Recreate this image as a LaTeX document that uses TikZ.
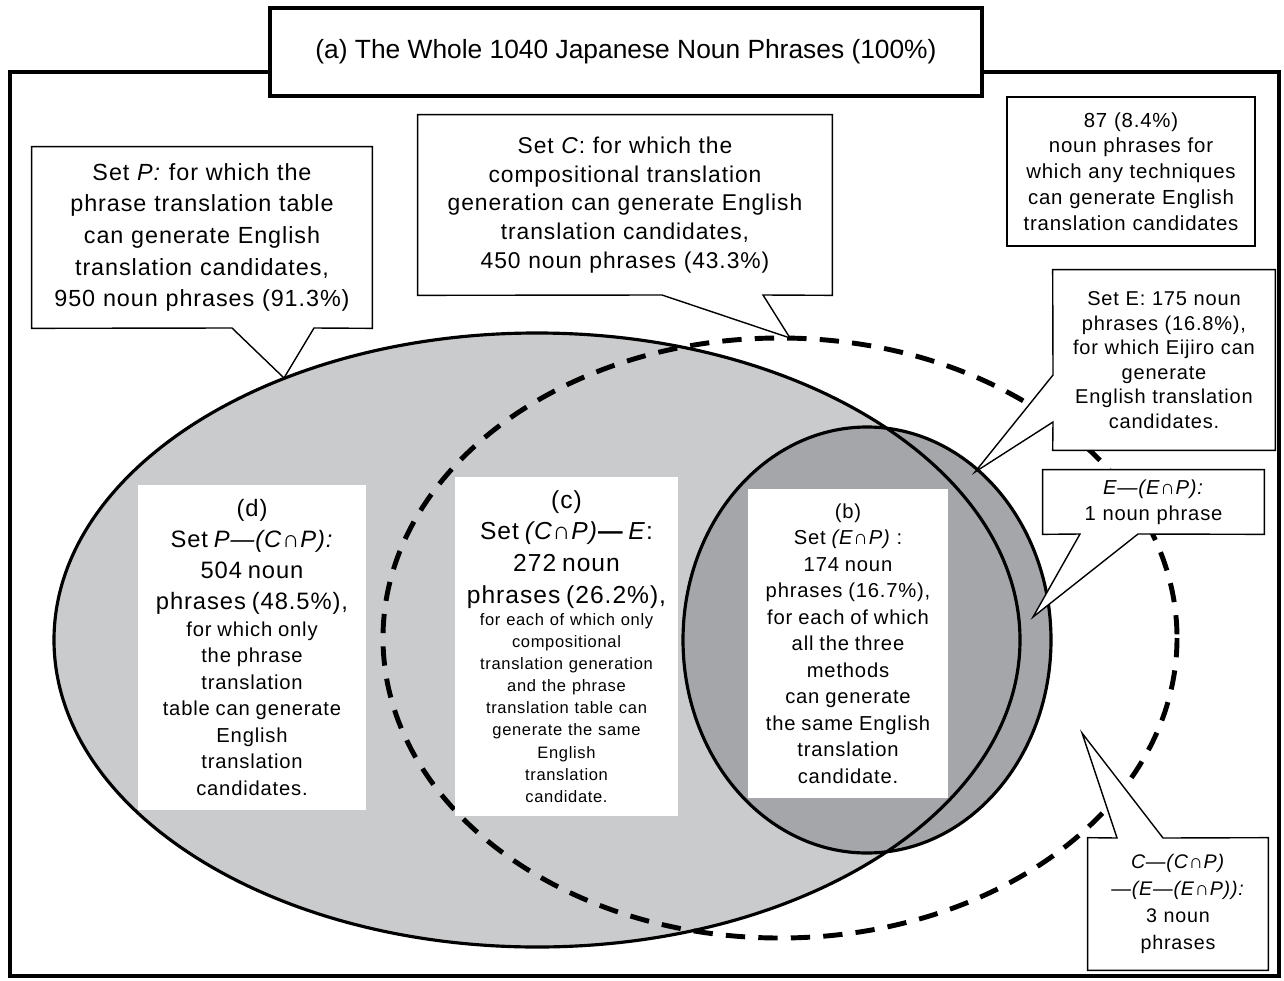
\documentclass[tikz,border=0pt]{standalone}
\usepackage{fontspec}
\setmainfont{Liberation Sans}[LetterSpace=4]
\newfontfamily\titlefont{Liberation Sans}
\definecolor{pgray}{RGB}{202,203,205}
\definecolor{egray}{RGB}{165,166,170}
\tikzset{
  setline/.style={line width=1.8pt},
  dashset/.style={line width=2.8pt, dash pattern=on 11pt off 7.5pt},
  callout/.style={draw=black, line width=0.8pt},
  textbox/.style={fill=white, inner sep=0pt, align=center},
  bigfont/.style={font=\fontsize{13.3}{18}\selectfont},
  midfont/.style={font=\fontsize{11.5}{14.6}\selectfont},
}
\begin{document}
\begin{tikzpicture}[x=0.02cm, y=-0.02cm]
  \useasboundingbox (0,0) rectangle (1284,980);
  \draw[line width=2.3pt] (10,72) rectangle (1279,976);

  \coordinate (P) at (537,640);
  \coordinate (C) at (780,638);
  \coordinate (E) at (867,640);
  \fill[pgray] (P) ellipse [x radius=483, y radius=307];
  \fill[egray] (E) ellipse [x radius=184, y radius=213];
  \draw[setline] (P) ellipse [x radius=483, y radius=307];
  \draw[setline] (E) ellipse [x radius=184, y radius=213];
  \draw[dashset] (C) ellipse [x radius=397, y radius=300];

  \node[draw, line width=2.3pt, fill=white, minimum width=14.24cm, minimum height=1.76cm]
    (title) at (626,52) {\titlefont\fontsize{15}{18}\selectfont (a) The Whole 1040 Japanese Noun Phrases (100\%)};

  \node[textbox, text width=4.56cm, minimum height=6.5cm] (dset) at (252,647.5)
    {\fontsize{13.5}{17.6}\selectfont (d)\\Set \textit{P—(C∩P):}\\504 noun\\phrases (48.5\%),\par
     \fontsize{11.5}{15.1}\selectfont for which only\\the phrase\\translation\\table can generate\\English\\translation\\candidates.\par};
  \node[textbox, text width=4.46cm, minimum height=6.78cm] (cset) at (566.5,646.5)
    {\fontsize{14}{18}\selectfont (c)\\Set \textit{(C∩P)}\textbf{—} \textit{E}:\\272 noun\\phrases (26.2\%),\par
     \fontsize{9.4}{12.6}\selectfont for each of which only\\compositional\\translation generation\\and the phrase\\translation table can\\generate the same\\English\\translation\\candidate.\par};
  \node[textbox, text width=4cm, minimum height=6.18cm] (bset) at (848,643.5)
    {\fontsize{11.5}{15.1}\selectfont (b)\\Set \textit{(E∩P)} :\\174 noun\\phrases (16.7\%),\\for each of which\\all the three\\methods\\can generate\\the same English\\translation\\candidate.\par};

  \coordinate (pb1) at (232,328);
  \coordinate (pb2) at (314,328);
  \coordinate (ptip) at (284,378);
  \coordinate (cb1) at (662,295);
  \coordinate (cb2) at (763,295);
  \coordinate (ctip) at (790,338);
  \coordinate (eb1) at (1053,375);
  \coordinate (eb2) at (1053,422);
  \coordinate (etip) at (975,472);
  \coordinate (ob1) at (1080,534);
  \coordinate (ob2) at (1138,534);
  \coordinate (otip) at (1033,617);
  \coordinate (rb1) at (1117,838);
  \coordinate (rb2) at (1163,838);
  \coordinate (rtip) at (1082,733);

  \fill[white] (pb1) -- (ptip) -- (pb2) -- cycle;
  \node[textbox, bigfont, text width=6.8cm, minimum height=3.62cm] (pbox) at (202,237.5)
    {Set \textit{P:} for which the\\phrase translation table\\can generate English\\translation candidates,\\950 noun phrases (91.3\%)};
  \draw[callout] (pbox.south west) -- (pbox.north west) -- (pbox.north east) -- (pbox.south east)
    -- (pb2) -- (ptip) -- (pb1) -- cycle;

  \fill[white] (cb1) -- (ctip) -- (cb2) -- cycle;
  \node[textbox, font=\fontsize{13}{16.3}\selectfont, text width=8.28cm, minimum height=3.6cm] (cbox) at (625,205)
    {Set \textit{C}: for which the\\compositional translation\\generation can generate English\\translation candidates,\\450 noun phrases (43.3\%)};
  \draw[callout] (cbox.south west) -- (cbox.north west) -- (cbox.north east) -- (cbox.south east)
    -- (cb2) -- (ctip) -- (cb1) -- cycle;

  \node[textbox, draw, line width=1.1pt, font=\fontsize{11.6}{14.7}\selectfont, text width=4.96cm, minimum height=2.98cm]
    (anybox) at (1131,171.5)
    {87 (8.4\%)\\noun phrases for\\which any techniques\\can generate English\\translation candidates};

  \fill[white] (eb1) -- (etip) -- (eb2) -- cycle;
  \node[textbox, font=\fontsize{11.4}{14}\selectfont, text width=4.44cm, minimum height=3.6cm] (ebox) at (1164,360)
    {Set E: 175 noun\\phrases (16.8\%),\\for which Eijiro can\\generate\\English translation\\candidates.};
  \draw[callout] (ebox.south west) -- (eb2) -- (etip) -- (eb1) -- (ebox.north west)
    -- (ebox.north east) -- (ebox.south east) -- cycle;

  \fill[white] (ob1) -- (otip) -- (ob2) -- cycle;
  \node[textbox, midfont, text width=4.42cm, minimum height=1.28cm] (obox) at (1153.5,502)
    {\textit{E—(E∩P):}\\1 noun phrase};
  \draw[callout] (obox.south west) -- (obox.north west) -- (obox.north east) -- (obox.south east)
    -- (ob2) -- (otip) -- (ob1) -- cycle;

  \fill[white] (rb1) -- (rtip) -- (rb2) -- cycle;
  \node[textbox, font=\fontsize{11.2}{15.3}\selectfont, text width=3.6cm, minimum height=2.64cm] (rbox) at (1178,904)
    {\textit{C—(C∩P)}\\\textit{—(E—(E∩P)):}\\3 noun\\phrases};
  \draw[callout] (rbox.south west) -- (rbox.north west) -- (rb1) -- (rtip) -- (rb2)
    -- (rbox.north east) -- (rbox.south east) -- cycle;
\end{tikzpicture}
\end{document}
